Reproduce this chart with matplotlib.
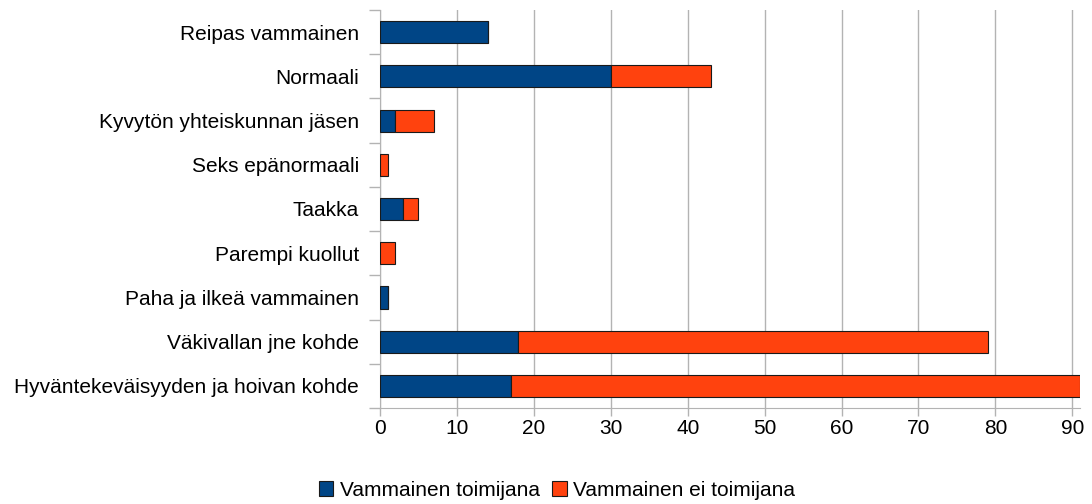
import matplotlib.pyplot as plt
import numpy as np

categories = ["Reipas vammainen", "Normaali", "Kyvytön yhteiskunnan jäsen",
              "Seks epänormaali", "Taakka", "Parempi kuollut",
              "Paha ja ilkeä vammainen", "Väkivallan jne kohde",
              "Hyväntekeväisyyden ja hoivan kohde"]
toimijana = [14, 30, 2, 0, 3, 0, 1, 18, 17]
ei_toimijana = [0, 13, 5, 1, 2, 2, 0, 61, 74]
series_names = ["Vammainen toimijana", "Vammainen ei toimijana"]

plt.rcParams['font.family'] = ['Liberation Sans', 'DejaVu Sans']

fig = plt.figure(figsize=(10.92, 5.04), dpi=100)
ax = fig.add_axes([380 / 1092, 1 - 408 / 504, 700 / 1092, 398 / 504])

y = np.arange(len(categories))
h = 0.5
ax.barh(y, toimijana, height=h, color='#004586', edgecolor='#1a1a1a', linewidth=0.8,
        label=series_names[0], zorder=3)
ax.barh(y, ei_toimijana, left=toimijana, height=h, color='#ff420e', edgecolor='#1a1a1a',
        linewidth=0.8, label=series_names[1], zorder=3)

ax.set_xlim(0, 91)
ax.set_ylim(len(categories) - 0.5, -0.5)
ax.set_xticks(np.arange(0, 91, 10))
ax.set_yticks(y)
ax.set_yticklabels(categories)
ax.set_yticks(np.arange(-0.5, len(categories), 1), minor=True)
ax.tick_params(axis='y', which='major', length=0, pad=15, labelsize=15)
ax.tick_params(axis='y', which='minor', length=8, color='#b3b3b3', width=1)
ax.tick_params(axis='x', length=6, color='#b3b3b3', width=1, labelsize=15, pad=2)
ax.grid(axis='x', color='#b3b3b3', linewidth=1, zorder=0)

for s in ['top', 'right']:
    ax.spines[s].set_visible(False)
for s in ['left', 'bottom']:
    ax.spines[s].set_color('#b3b3b3')

fig.legend(loc='center', bbox_to_anchor=(557 / 1092, 1 - 490 / 504), ncol=2, frameon=False,
           fontsize=15, handlelength=0.7, handleheight=0.7, handletextpad=0.3,
           columnspacing=0.6, borderpad=0)

fig.savefig('out.png', dpi=100)
